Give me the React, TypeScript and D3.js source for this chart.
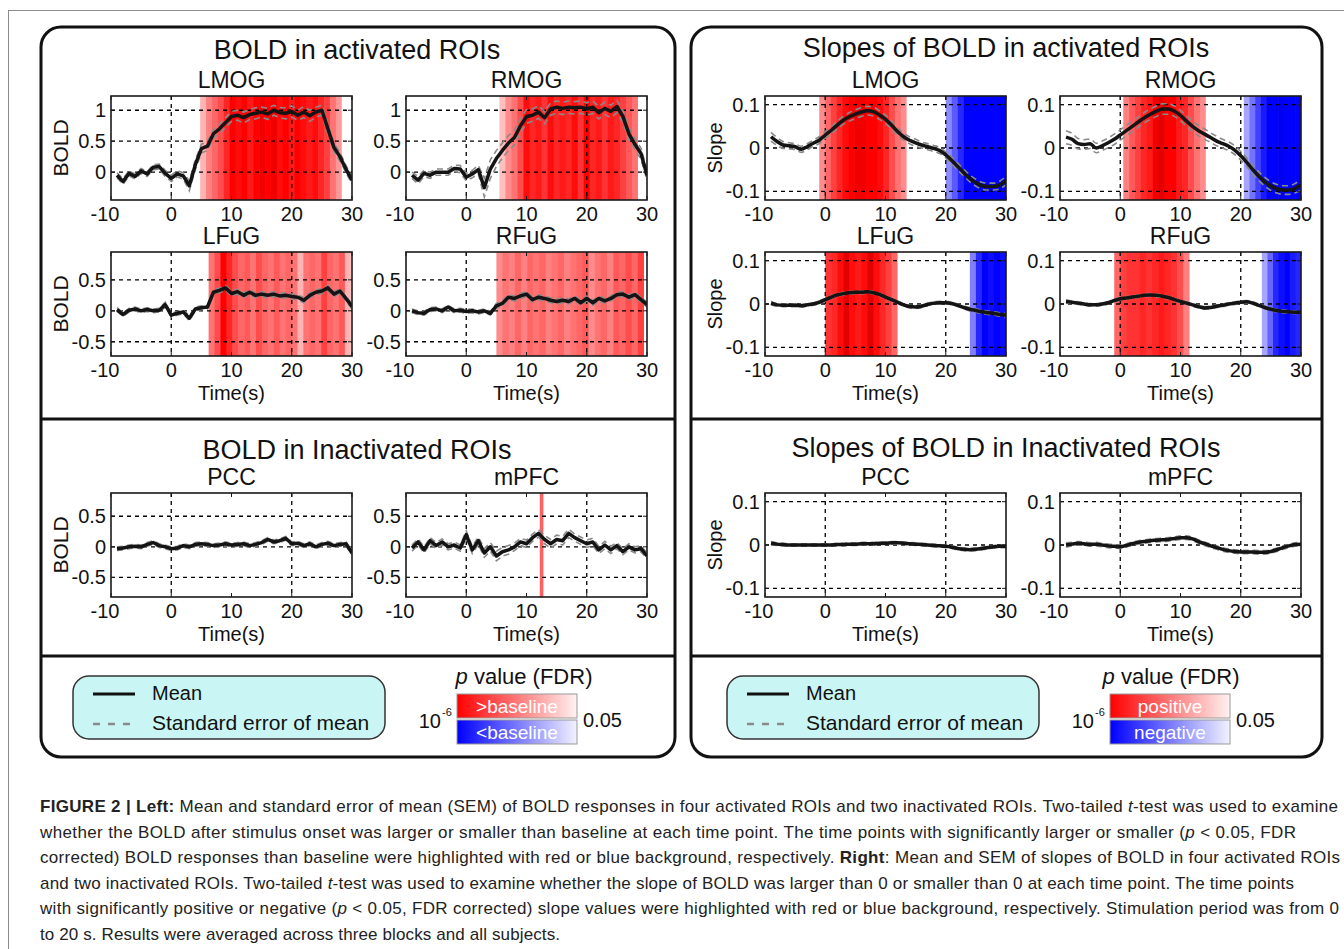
import React from "react";
import * as d3 from "d3";

const FONT = '"Liberation Sans", Arial, Helvetica, sans-serif';

// one sample per second, -9 s .. 30 s
const TIME = [-9, -8, -7, -6, -5, -4, -3, -2, -1, 0, 1, 2, 3, 4, 5, 6, 7, 8, 9, 10, 11, 12, 13, 14, 15, 16, 17, 18, 19, 20, 21, 22, 23, 24, 25, 26, 27, 28, 29, 30];
const X_TICKS = [-10, 0, 10, 20, 30];
const X_GRID = [0, 20];
const BOLD_TICKS_TOP = [0, 0.5, 1];
const BOLD_TICKS = [-0.5, 0, 0.5];
const SLOPE_TICKS = [-0.1, 0, 0.1];

// BOLD means and SEM
const BOLD_LMOG = [-0.05, -0.15, -0.02, -0.07, 0.02, -0.03, 0.08, 0.09, -0.02, -0.1, -0.03, -0.06, -0.22, 0.12, 0.38, 0.42, 0.62, 0.7, 0.8, 0.9, 0.92, 0.88, 0.93, 0.95, 0.97, 0.94, 1.0, 0.96, 0.95, 0.98, 0.92, 0.97, 0.91, 0.97, 1.0, 0.7, 0.4, 0.25, 0.05, -0.13];
const BOLD_LMOG_SEM = [0.04, 0.05, 0.04, 0.04, 0.04, 0.04, 0.04, 0.04, 0.05, 0.05, 0.05, 0.05, 0.08, 0.08, 0.07, 0.07, 0.07, 0.08, 0.08, 0.08, 0.08, 0.09, 0.08, 0.09, 0.08, 0.09, 0.08, 0.08, 0.09, 0.09, 0.08, 0.09, 0.09, 0.08, 0.08, 0.08, 0.07, 0.07, 0.06, 0.06];
const BOLD_RMOG = [-0.05, -0.13, -0.02, -0.05, 0.0, 0.0, 0.0, 0.06, 0.05, -0.08, -0.03, 0.04, -0.25, 0.05, 0.22, 0.35, 0.47, 0.56, 0.75, 0.9, 0.92, 0.97, 0.88, 1.02, 1.05, 1.03, 1.05, 1.04, 1.05, 1.02, 1.05, 0.96, 1.03, 0.98, 1.06, 0.9, 0.62, 0.45, 0.3, -0.05];
const BOLD_RMOG_SEM = [0.05, 0.06, 0.05, 0.05, 0.05, 0.05, 0.05, 0.05, 0.06, 0.06, 0.06, 0.07, 0.15, 0.15, 0.13, 0.12, 0.12, 0.12, 0.12, 0.11, 0.1, 0.1, 0.1, 0.1, 0.1, 0.1, 0.1, 0.1, 0.1, 0.1, 0.1, 0.1, 0.1, 0.1, 0.1, 0.1, 0.1, 0.09, 0.09, 0.08];
const BOLD_LFUG = [0.02, -0.06, 0.01, 0.03, 0.0, 0.02, 0.0, 0.01, 0.1, -0.07, -0.04, -0.02, -0.12, 0.03, 0.05, 0.06, 0.3, 0.33, 0.37, 0.28, 0.31, 0.25, 0.3, 0.25, 0.27, 0.25, 0.27, 0.24, 0.25, 0.23, 0.22, 0.17, 0.25, 0.3, 0.32, 0.37, 0.27, 0.32, 0.2, 0.07];
const BOLD_LFUG_SEM = [0.03, 0.03, 0.03, 0.03, 0.03, 0.03, 0.03, 0.03, 0.04, 0.03, 0.03, 0.03, 0.04, 0.03, 0.03, 0.03, 0.04, 0.04, 0.04, 0.04, 0.04, 0.04, 0.04, 0.04, 0.04, 0.04, 0.04, 0.04, 0.04, 0.04, 0.04, 0.04, 0.04, 0.04, 0.04, 0.04, 0.04, 0.04, 0.04, 0.04];
const BOLD_RFUG = [0.0, -0.03, -0.04, 0.02, 0.03, 0.0, 0.06, 0.0, 0.01, -0.01, 0.0, -0.02, 0.0, -0.04, 0.08, 0.12, 0.22, 0.2, 0.24, 0.27, 0.18, 0.22, 0.2, 0.17, 0.15, 0.17, 0.15, 0.2, 0.13, 0.2, 0.13, 0.2, 0.16, 0.2, 0.26, 0.27, 0.22, 0.26, 0.18, 0.1];
const BOLD_RFUG_SEM = [0.03, 0.03, 0.03, 0.03, 0.03, 0.03, 0.03, 0.03, 0.03, 0.03, 0.03, 0.03, 0.03, 0.03, 0.04, 0.04, 0.04, 0.04, 0.04, 0.04, 0.04, 0.04, 0.04, 0.04, 0.04, 0.04, 0.04, 0.04, 0.04, 0.04, 0.04, 0.04, 0.04, 0.04, 0.04, 0.04, 0.04, 0.04, 0.04, 0.04];
const BOLD_PCC = [-0.03, -0.02, 0.0, 0.01, 0.0, 0.04, 0.07, 0.02, 0.0, -0.03, -0.02, 0.02, 0.0, 0.04, 0.05, 0.04, 0.02, 0.03, 0.05, 0.03, 0.04, 0.05, 0.02, 0.04, 0.07, 0.12, 0.08, 0.1, 0.14, 0.05, 0.06, 0.02, 0.05, 0.0, 0.04, 0.06, 0.02, 0.04, 0.05, -0.1];
const BOLD_PCC_SEM = [0.03, 0.03, 0.03, 0.03, 0.03, 0.03, 0.03, 0.03, 0.03, 0.03, 0.03, 0.03, 0.03, 0.03, 0.03, 0.03, 0.03, 0.03, 0.03, 0.03, 0.03, 0.03, 0.03, 0.03, 0.03, 0.03, 0.03, 0.03, 0.03, 0.03, 0.03, 0.03, 0.03, 0.03, 0.03, 0.03, 0.03, 0.03, 0.03, 0.03];
const BOLD_MPFC = [-0.02, 0.08, -0.05, 0.1, 0.02, 0.08, 0.0, 0.03, -0.02, 0.2, -0.05, 0.1, -0.1, 0.0, -0.15, -0.08, -0.05, 0.0, 0.08, 0.05, 0.15, 0.22, 0.12, 0.05, 0.12, 0.1, 0.22, 0.15, 0.1, 0.05, 0.08, -0.05, 0.03, -0.05, 0.02, -0.08, 0.0, -0.05, -0.03, -0.15];
const BOLD_MPFC_SEM = [0.05, 0.05, 0.05, 0.05, 0.05, 0.05, 0.05, 0.05, 0.05, 0.06, 0.06, 0.06, 0.07, 0.07, 0.08, 0.07, 0.07, 0.06, 0.06, 0.06, 0.06, 0.06, 0.07, 0.07, 0.07, 0.07, 0.07, 0.06, 0.06, 0.06, 0.06, 0.06, 0.06, 0.06, 0.05, 0.05, 0.05, 0.05, 0.05, 0.05];

// slope means and SEM
const SLOPE_LMOG = [0.026, 0.015, 0.007, 0.005, 0.003, -0.003, 0.003, 0.011, 0.018, 0.03, 0.041, 0.053, 0.064, 0.072, 0.078, 0.083, 0.086, 0.084, 0.076, 0.066, 0.053, 0.038, 0.026, 0.018, 0.012, 0.007, 0.003, -0.001, -0.006, -0.016, -0.029, -0.043, -0.057, -0.07, -0.08, -0.087, -0.089, -0.089, -0.085, -0.075];
const SLOPE_LMOG_SEM = [0.01, 0.009, 0.008, 0.007, 0.007, 0.007, 0.007, 0.007, 0.008, 0.008, 0.008, 0.009, 0.009, 0.01, 0.01, 0.01, 0.01, 0.01, 0.01, 0.01, 0.009, 0.009, 0.008, 0.008, 0.008, 0.007, 0.007, 0.007, 0.007, 0.007, 0.008, 0.008, 0.008, 0.008, 0.008, 0.008, 0.008, 0.008, 0.009, 0.01];
const SLOPE_RMOG = [0.025, 0.02, 0.01, 0.008, 0.01, 0.0, 0.005, 0.012, 0.02, 0.03, 0.04, 0.05, 0.06, 0.07, 0.078, 0.085, 0.09, 0.09, 0.085, 0.075, 0.062, 0.05, 0.04, 0.032, 0.024, 0.016, 0.01, 0.004, -0.005, -0.018, -0.033, -0.05, -0.065, -0.078, -0.088, -0.094, -0.097, -0.097, -0.093, -0.085];
const SLOPE_RMOG_SEM = [0.015, 0.014, 0.012, 0.011, 0.011, 0.011, 0.011, 0.011, 0.012, 0.012, 0.012, 0.012, 0.012, 0.012, 0.012, 0.012, 0.012, 0.012, 0.012, 0.012, 0.012, 0.012, 0.012, 0.012, 0.011, 0.011, 0.01, 0.01, 0.01, 0.01, 0.01, 0.01, 0.01, 0.01, 0.01, 0.01, 0.01, 0.01, 0.011, 0.012];
const SLOPE_LFUG = [0.002, -0.002, -0.003, -0.003, -0.003, -0.004, -0.002, 0.0, 0.004, 0.01, 0.016, 0.021, 0.024, 0.026, 0.027, 0.027, 0.028, 0.026, 0.022, 0.016, 0.01, 0.004, -0.002, -0.006, -0.007, -0.005, -0.001, 0.002, 0.003, 0.003, 0.001, -0.003, -0.008, -0.012, -0.015, -0.018, -0.02, -0.022, -0.024, -0.026];
const SLOPE_LFUG_SEM = [0.004, 0.003, 0.003, 0.003, 0.003, 0.003, 0.003, 0.003, 0.003, 0.003, 0.003, 0.003, 0.003, 0.003, 0.003, 0.003, 0.003, 0.003, 0.003, 0.003, 0.003, 0.003, 0.003, 0.003, 0.003, 0.003, 0.003, 0.003, 0.003, 0.003, 0.003, 0.003, 0.003, 0.004, 0.004, 0.004, 0.004, 0.004, 0.004, 0.004];
const SLOPE_RFUG = [0.006, 0.004, 0.002, 0.0, -0.002, -0.002, 0.0, 0.003, 0.008, 0.012, 0.014, 0.016, 0.018, 0.02, 0.021, 0.02, 0.018, 0.015, 0.01, 0.006, 0.002, -0.002, -0.006, -0.009, -0.008, -0.005, -0.003, 0.0, 0.002, 0.004, 0.005, 0.002, -0.003, -0.008, -0.012, -0.015, -0.017, -0.018, -0.019, -0.019];
const SLOPE_RFUG_SEM = [0.004, 0.003, 0.003, 0.003, 0.003, 0.003, 0.003, 0.003, 0.003, 0.003, 0.003, 0.003, 0.003, 0.003, 0.003, 0.003, 0.003, 0.003, 0.003, 0.003, 0.003, 0.003, 0.003, 0.003, 0.003, 0.003, 0.003, 0.003, 0.003, 0.003, 0.003, 0.003, 0.003, 0.003, 0.003, 0.003, 0.003, 0.003, 0.003, 0.003];
const SLOPE_PCC = [0.004, 0.002, 0.001, 0.0, 0.0, 0.0, 0.0, 0.0, 0.0, 0.0, 0.0, 0.001, 0.001, 0.002, 0.002, 0.003, 0.003, 0.003, 0.004, 0.004, 0.005, 0.005, 0.004, 0.003, 0.002, 0.001, 0.0, -0.001, -0.002, -0.003, -0.005, -0.008, -0.01, -0.011, -0.01, -0.008, -0.006, -0.004, -0.003, -0.003];
const SLOPE_PCC_SEM = [0.004, 0.003, 0.003, 0.003, 0.003, 0.003, 0.003, 0.003, 0.003, 0.003, 0.003, 0.003, 0.003, 0.003, 0.003, 0.003, 0.003, 0.003, 0.003, 0.003, 0.003, 0.003, 0.003, 0.003, 0.003, 0.003, 0.003, 0.003, 0.003, 0.003, 0.003, 0.003, 0.003, 0.003, 0.003, 0.003, 0.003, 0.003, 0.003, 0.003];
const SLOPE_MPFC = [0.0, 0.002, 0.004, 0.003, 0.001, 0.002, 0.0, -0.002, -0.003, -0.004, -0.001, 0.003, 0.006, 0.008, 0.01, 0.011, 0.012, 0.013, 0.015, 0.017, 0.017, 0.014, 0.008, 0.003, -0.002, -0.006, -0.01, -0.013, -0.015, -0.016, -0.016, -0.016, -0.017, -0.017, -0.015, -0.011, -0.006, -0.002, 0.001, 0.002];
const SLOPE_MPFC_SEM = [0.005, 0.004, 0.004, 0.004, 0.004, 0.004, 0.004, 0.004, 0.004, 0.004, 0.004, 0.004, 0.004, 0.004, 0.004, 0.004, 0.004, 0.004, 0.004, 0.004, 0.004, 0.004, 0.004, 0.004, 0.004, 0.004, 0.004, 0.004, 0.004, 0.004, 0.004, 0.004, 0.004, 0.004, 0.004, 0.004, 0.004, 0.004, 0.004, 0.004];

// significance strips: [start, end] in seconds, then shade per bin (0 = p .05, 1 = p 1e-6)
const BOLD_LMOG_RED_SPAN = [4.8, 28.3];
const BOLD_LMOG_RED = [0.3, 0.5, 0.6, 0.7, 0.85, 1.0, 0.95, 1.0, 0.9, 1.0, 1.05, 1.0, 1.05, 0.95, 1.0, 0.9, 1.0, 0.95, 0.9, 0.95, 0.85, 0.75, 0.55, 0.4];
const BOLD_RMOG_RED_SPAN = [5.5, 28.5];
const BOLD_RMOG_RED = [0.25, 0.45, 0.55, 0.7, 0.95, 0.85, 0.9, 0.8, 0.95, 0.85, 0.9, 0.85, 0.95, 0.8, 1.0, 0.85, 0.9, 0.8, 0.9, 0.85, 0.75, 0.65, 0.55];
const BOLD_LFUG_RED_SPAN = [6.2, 29.8];
const BOLD_LFUG_RED = [0.55, 0.7, 1.0, 0.85, 0.7, 0.6, 0.65, 0.55, 0.7, 0.6, 0.55, 0.65, 0.55, 0.6, 0.55, 0.3, 0.55, 0.6, 0.55, 0.75, 0.6, 0.55, 0.65, 0.3];
const BOLD_RFUG_RED_SPAN = [5.0, 29.5];
const BOLD_RFUG_RED = [0.45, 0.55, 0.5, 0.6, 0.5, 0.6, 0.55, 0.6, 0.5, 0.55, 0.6, 0.5, 0.55, 0.6, 0.65, 0.45, 0.55, 0.6, 0.5, 0.65, 0.6, 0.7, 0.6, 0.75];
const BOLD_MPFC_RED_SPAN = [12.2, 12.8];
const BOLD_MPFC_RED = [0.62];
const SLOPE_LMOG_RED_SPAN = [-1.0, 13.5];
const SLOPE_LMOG_RED = [0.45, 0.6, 0.75, 0.85, 0.95, 1.0, 1.05, 1.05, 1.0, 1.0, 0.95, 0.85, 0.7, 0.55, 0.45];
const SLOPE_LMOG_BLUE_SPAN = [20.0, 30.0];
const SLOPE_LMOG_BLUE = [0.45, 0.65, 0.85, 1.0, 1.0, 1.0, 1.0, 1.0, 1.0, 1.0];
const SLOPE_RMOG_RED_SPAN = [0.5, 14.2];
const SLOPE_RMOG_RED = [0.5, 0.65, 0.75, 0.85, 0.9, 1.05, 1.1, 1.0, 1.0, 0.9, 0.85, 0.7, 0.55, 0.45];
const SLOPE_RMOG_BLUE_SPAN = [20.5, 30.0];
const SLOPE_RMOG_BLUE = [0.35, 0.55, 0.75, 0.9, 1.0, 1.0, 1.05, 1.0, 1.0, 1.0];
const SLOPE_LFUG_RED_SPAN = [0.0, 12.0];
const SLOPE_LFUG_RED = [0.8, 0.85, 0.95, 1.1, 0.95, 0.9, 0.95, 1.1, 0.95, 0.85, 0.75, 0.6];
const SLOPE_LFUG_BLUE_SPAN = [24.0, 30.0];
const SLOPE_LFUG_BLUE = [0.5, 0.85, 1.0, 0.95, 1.0, 0.95];
const SLOPE_RFUG_RED_SPAN = [-1.0, 11.5];
const SLOPE_RFUG_RED = [0.6, 0.75, 0.8, 0.8, 0.85, 0.8, 0.85, 0.9, 0.85, 0.8, 0.7, 0.5];
const SLOPE_RFUG_BLUE_SPAN = [23.5, 30.0];
const SLOPE_RFUG_BLUE = [0.35, 0.6, 0.85, 0.95, 1.0, 0.9, 0.85];

const CAPTION = [
  [["b", "FIGURE 2 | Left:"], ["", " Mean and standard error of mean (SEM) of BOLD responses in four activated ROIs and two inactivated ROIs. Two-tailed "], ["i", "t"], ["", "-test was used to examine"]],
  [["", "whether the BOLD after stimulus onset was larger or smaller than baseline at each time point. The time points with significantly larger or smaller ("], ["i", "p"], ["", " < 0.05, FDR"]],
  [["", "corrected) BOLD responses than baseline were highlighted with red or blue background, respectively. "], ["b", "Right"], ["", ": Mean and SEM of slopes of BOLD in four activated ROIs"]],
  [["", "and two inactivated ROIs. Two-tailed "], ["i", "t"], ["", "-test was used to examine whether the slope of BOLD was larger than 0 or smaller than 0 at each time point. The time points"]],
  [["", "with significantly positive or negative ("], ["i", "p"], ["", " < 0.05, FDR corrected) slope values were highlighted with red or blue background, respectively. Stimulation period was from 0"]],
  [["", "to 20 s. Results were averaged across three blocks and all subjects."]]
];
const CAPTION_WIDTHS = [1298, 1256, 1300, 1254, 1299, 520];

const redScale = d3.scaleLinear<string>().domain([0, 1, 1.2]).range(["#ffffff", "#ff0000", "#c80000"]).clamp(true);
const blueScale = d3.scaleLinear<string>().domain([0, 1, 1.2]).range(["#ffffff", "#0000ff", "#0000c0"]).clamp(true);

type Strip = { span: number[]; values: number[]; hue: "red" | "blue" };
type PlotCfg = {
  id: string; title: string; x0: number; x1: number; y0: number; y1: number;
  yDomain: number[]; yTicks: number[]; mean: number[]; sem: number[];
  strips: Strip[]; smooth: boolean; yLabel?: string; xLabel?: boolean;
};

const TOP_BOX = { y0: 96, y1: 200 };
const MID_BOX = { y0: 252, y1: 356 };
const LOW_BOX = { y0: 493, y1: 597 };

const PLOTS: PlotCfg[] = [
  { id: "b1", title: "LMOG", x0: 111, x1: 352, ...TOP_BOX, yDomain: [-0.45, 1.23], yTicks: BOLD_TICKS_TOP, mean: BOLD_LMOG, sem: BOLD_LMOG_SEM, strips: [{ span: BOLD_LMOG_RED_SPAN, values: BOLD_LMOG_RED, hue: "red" }], smooth: false, yLabel: "BOLD" },
  { id: "b2", title: "RMOG", x0: 406, x1: 647, ...TOP_BOX, yDomain: [-0.45, 1.23], yTicks: BOLD_TICKS_TOP, mean: BOLD_RMOG, sem: BOLD_RMOG_SEM, strips: [{ span: BOLD_RMOG_RED_SPAN, values: BOLD_RMOG_RED, hue: "red" }], smooth: false },
  { id: "b3", title: "LFuG", x0: 111, x1: 352, ...MID_BOX, yDomain: [-0.73, 0.95], yTicks: BOLD_TICKS, mean: BOLD_LFUG, sem: BOLD_LFUG_SEM, strips: [{ span: BOLD_LFUG_RED_SPAN, values: BOLD_LFUG_RED, hue: "red" }], smooth: false, yLabel: "BOLD", xLabel: true },
  { id: "b4", title: "RFuG", x0: 406, x1: 647, ...MID_BOX, yDomain: [-0.73, 0.95], yTicks: BOLD_TICKS, mean: BOLD_RFUG, sem: BOLD_RFUG_SEM, strips: [{ span: BOLD_RFUG_RED_SPAN, values: BOLD_RFUG_RED, hue: "red" }], smooth: false, xLabel: true },
  { id: "b5", title: "PCC", x0: 111, x1: 352, ...LOW_BOX, yDomain: [-0.82, 0.88], yTicks: BOLD_TICKS, mean: BOLD_PCC, sem: BOLD_PCC_SEM, strips: [], smooth: false, yLabel: "BOLD", xLabel: true },
  { id: "b6", title: "mPFC", x0: 406, x1: 647, ...LOW_BOX, yDomain: [-0.82, 0.88], yTicks: BOLD_TICKS, mean: BOLD_MPFC, sem: BOLD_MPFC_SEM, strips: [{ span: BOLD_MPFC_RED_SPAN, values: BOLD_MPFC_RED, hue: "red" }], smooth: false, xLabel: true },
  { id: "s1", title: "LMOG", x0: 765, x1: 1006, ...TOP_BOX, yDomain: [-0.12, 0.12], yTicks: SLOPE_TICKS, mean: SLOPE_LMOG, sem: SLOPE_LMOG_SEM, strips: [{ span: SLOPE_LMOG_RED_SPAN, values: SLOPE_LMOG_RED, hue: "red" }, { span: SLOPE_LMOG_BLUE_SPAN, values: SLOPE_LMOG_BLUE, hue: "blue" }], smooth: true, yLabel: "Slope" },
  { id: "s2", title: "RMOG", x0: 1060, x1: 1301, ...TOP_BOX, yDomain: [-0.12, 0.12], yTicks: SLOPE_TICKS, mean: SLOPE_RMOG, sem: SLOPE_RMOG_SEM, strips: [{ span: SLOPE_RMOG_RED_SPAN, values: SLOPE_RMOG_RED, hue: "red" }, { span: SLOPE_RMOG_BLUE_SPAN, values: SLOPE_RMOG_BLUE, hue: "blue" }], smooth: true },
  { id: "s3", title: "LFuG", x0: 765, x1: 1006, ...MID_BOX, yDomain: [-0.12, 0.12], yTicks: SLOPE_TICKS, mean: SLOPE_LFUG, sem: SLOPE_LFUG_SEM, strips: [{ span: SLOPE_LFUG_RED_SPAN, values: SLOPE_LFUG_RED, hue: "red" }, { span: SLOPE_LFUG_BLUE_SPAN, values: SLOPE_LFUG_BLUE, hue: "blue" }], smooth: true, yLabel: "Slope", xLabel: true },
  { id: "s4", title: "RFuG", x0: 1060, x1: 1301, ...MID_BOX, yDomain: [-0.12, 0.12], yTicks: SLOPE_TICKS, mean: SLOPE_RFUG, sem: SLOPE_RFUG_SEM, strips: [{ span: SLOPE_RFUG_RED_SPAN, values: SLOPE_RFUG_RED, hue: "red" }, { span: SLOPE_RFUG_BLUE_SPAN, values: SLOPE_RFUG_BLUE, hue: "blue" }], smooth: true, xLabel: true },
  { id: "s5", title: "PCC", x0: 765, x1: 1006, ...LOW_BOX, yDomain: [-0.12, 0.12], yTicks: SLOPE_TICKS, mean: SLOPE_PCC, sem: SLOPE_PCC_SEM, strips: [], smooth: true, yLabel: "Slope", xLabel: true },
  { id: "s6", title: "mPFC", x0: 1060, x1: 1301, ...LOW_BOX, yDomain: [-0.12, 0.12], yTicks: SLOPE_TICKS, mean: SLOPE_MPFC, sem: SLOPE_MPFC_SEM, strips: [], smooth: true, xLabel: true }
];

function Plot({ p }: { p: PlotCfg }) {
  const x = d3.scaleLinear().domain([-10, 30]).range([p.x0, p.x1]);
  const y = d3.scaleLinear().domain(p.yDomain).range([p.y1, p.y0]);
  const line = d3.line<number>()
    .x((_, i) => x(TIME[i]))
    .y((d) => y(d))
    .curve(p.smooth ? d3.curveMonotoneX : d3.curveLinear);
  const upper = p.mean.map((v, i) => v + p.sem[i]);
  const lower = p.mean.map((v, i) => v - p.sem[i]);
  const clip = `clip-${p.id}`;
  const midY = (p.y0 + p.y1) / 2;

  return (
    <g>
      <defs>
        <clipPath id={clip}>
          <rect x={p.x0} y={p.y0} width={p.x1 - p.x0} height={p.y1 - p.y0} />
        </clipPath>
      </defs>
      <rect x={p.x0} y={p.y0} width={p.x1 - p.x0} height={p.y1 - p.y0} fill="#fff" />
      <g clipPath={`url(#${clip})`}>
        {p.strips.map((s, si) => {
          const w = (s.span[1] - s.span[0]) / s.values.length;
          const sc = s.hue === "red" ? redScale : blueScale;
          return s.values.map((v, i) => {
            const a = x(s.span[0] + i * w);
            const b = x(s.span[0] + (i + 1) * w);
            const last = i === s.values.length - 1;
            return (
              <rect key={`${si}-${i}`} x={a} y={p.y0} width={b - a + (last ? 0 : 0.6)}
                height={p.y1 - p.y0} fill={sc(v)} />
            );
          });
        })}
        {p.yTicks.map((t) => (
          <line key={`gy${t}`} x1={p.x0} x2={p.x1} y1={y(t)} y2={y(t)}
            stroke="#000" strokeWidth={1.3} strokeDasharray="4 4" />
        ))}
        {X_GRID.map((t) => (
          <line key={`gx${t}`} x1={x(t)} x2={x(t)} y1={p.y0} y2={p.y1}
            stroke="#000" strokeWidth={1.3} strokeDasharray="4 4" />
        ))}
        <path d={line(upper) || ""} fill="none" stroke="#8a8a8a" strokeWidth={1.6} strokeDasharray="6 4" />
        <path d={line(lower) || ""} fill="none" stroke="#8a8a8a" strokeWidth={1.6} strokeDasharray="6 4" />
        <path d={line(p.mean) || ""} fill="none" stroke="#141414" strokeWidth={3.5} strokeLinejoin="round" />
      </g>
      <rect x={p.x0} y={p.y0} width={p.x1 - p.x0} height={p.y1 - p.y0}
        fill="none" stroke="#1a1a1a" strokeWidth={1.6} />
      {X_TICKS.map((t) => (
        <g key={`xt${t}`}>
          <line x1={x(t)} x2={x(t)} y1={p.y1} y2={p.y1 - 4} stroke="#1a1a1a" strokeWidth={1} />
          <line x1={x(t)} x2={x(t)} y1={p.y0} y2={p.y0 + 4} stroke="#1a1a1a" strokeWidth={1} />
          <text x={x(t) + (t < 0 ? -6 : 0)} y={p.y1 + 21} textAnchor="middle" fontSize={20}>{t}</text>
        </g>
      ))}
      {p.yTicks.map((t) => (
        <g key={`yt${t}`}>
          <line x1={p.x0} x2={p.x0 + 4} y1={y(t)} y2={y(t)} stroke="#1a1a1a" strokeWidth={1} />
          <line x1={p.x1} x2={p.x1 - 4} y1={y(t)} y2={y(t)} stroke="#1a1a1a" strokeWidth={1} />
          <text x={p.x0 - 5} y={y(t) + 7} textAnchor="end" fontSize={20}>{t}</text>
        </g>
      ))}
      <text x={(p.x0 + p.x1) / 2} y={p.y0 - 8} textAnchor="middle" fontSize={23}>{p.title}</text>
      {p.yLabel && (
        <text transform={`translate(${p.x0 - 43},${midY}) rotate(-90)`} textAnchor="middle"
          fontSize={p.yLabel === "BOLD" ? 21 : 20}>{p.yLabel}</text>
      )}
      {p.xLabel && (
        <text x={(p.x0 + p.x1) / 2} y={p.y1 + 44} textAnchor="middle" fontSize={20}>Time(s)</text>
      )}
    </g>
  );
}

function Legend({ x0, cbX, pX, posLabel, negLabel }: { x0: number; cbX: number; pX: number; posLabel: string; negLabel: string }) {
  const cbW = 120;
  return (
    <g>
      <rect x={x0} y={676} width={312} height={63} rx={16} fill="#c9f6f4" stroke="#333" strokeWidth={1.5} />
      <line x1={x0 + 20} x2={x0 + 62} y1={694} y2={694} stroke="#111" strokeWidth={3} />
      <text x={x0 + 79} y={700} fontSize={20}>Mean</text>
      <line x1={x0 + 20} x2={x0 + 62} y1={724} y2={724} stroke="#8a8a8a" strokeWidth={2.5} strokeDasharray="7 8" />
      <text x={x0 + 79} y={730} fontSize={21}>Standard error of mean</text>

      <text x={pX} y={684} textAnchor="middle" fontSize={22}>
        <tspan fontStyle="italic">p</tspan> value (FDR)
      </text>
      <rect x={cbX} y={694} width={cbW} height={24} fill="url(#gradRed)" stroke="#999" strokeWidth={1} />
      <rect x={cbX} y={720} width={cbW} height={24} fill="url(#gradBlue)" stroke="#999" strokeWidth={1} />
      <text x={cbX + cbW / 2} y={713} textAnchor="middle" fontSize={19} fill="#fff">{posLabel}</text>
      <text x={cbX + cbW / 2} y={739} textAnchor="middle" fontSize={19} fill="#fff">{negLabel}</text>
      <text x={cbX - 16} y={728} textAnchor="end" fontSize={20}>10</text>
      <text x={cbX - 15} y={716} fontSize={11}>-6</text>
      <text x={cbX + cbW + 6} y={727} fontSize={20}>0.05</text>
    </g>
  );
}

export default function App() {
  return (
    <svg width={1344} height={949} viewBox="0 0 1344 949"
      style={{ position: "absolute", left: 0, top: 0, background: "#fff" }}
      fontFamily={FONT} fill="#111">
      <defs>
        <linearGradient id="gradRed" x1="0" x2="1" y1="0" y2="0">
          <stop offset="0" stopColor="#ff0000" />
          <stop offset="1" stopColor="#fff2f2" />
        </linearGradient>
        <linearGradient id="gradBlue" x1="0" x2="1" y1="0" y2="0">
          <stop offset="0" stopColor="#0000ff" />
          <stop offset="1" stopColor="#f2f2ff" />
        </linearGradient>
      </defs>

      {/* outer frame */}
      <line x1={8} x2={1344} y1={10.5} y2={10.5} stroke="#8c8c8c" strokeWidth={1} />
      <line x1={8.5} x2={8.5} y1={10} y2={949} stroke="#8c8c8c" strokeWidth={1} />

      {/* panels */}
      <rect x={41} y={27} width={634} height={730} rx={20} fill="none" stroke="#111" strokeWidth={3} />
      <line x1={41} x2={675} y1={419} y2={419} stroke="#111" strokeWidth={3} />
      <line x1={41} x2={675} y1={656} y2={656} stroke="#111" strokeWidth={3} />
      <rect x={691} y={27} width={631} height={730} rx={20} fill="none" stroke="#111" strokeWidth={3} />
      <line x1={691} x2={1322} y1={419} y2={419} stroke="#111" strokeWidth={3} />
      <line x1={691} x2={1322} y1={656} y2={656} stroke="#111" strokeWidth={3} />

      <text x={357} y={59} textAnchor="middle" fontSize={27}>BOLD in activated ROIs</text>
      <text x={1006} y={57} textAnchor="middle" fontSize={27}>Slopes of BOLD in activated ROIs</text>
      <text x={357} y={459} textAnchor="middle" fontSize={27}>BOLD in Inactivated ROIs</text>
      <text x={1006} y={457} textAnchor="middle" fontSize={27}>Slopes of BOLD in Inactivated ROIs</text>

      {PLOTS.map((p) => <Plot key={p.id} p={p} />)}

      <Legend x0={73} cbX={457} pX={524} posLabel=">baseline" negLabel="<baseline" />
      <Legend x0={727} cbX={1110} pX={1171} posLabel="positive" negLabel="negative" />

      {CAPTION.map((parts, li) => (
        <text key={li} x={40} y={812 + li * 25.6} fontSize={17} fill="#222"
          textLength={CAPTION_WIDTHS[li]} lengthAdjust="spacing">
          {parts.map(([style, s], k) => (
            <tspan key={k} fontWeight={style === "b" ? "bold" : undefined}
              fontStyle={style === "i" ? "italic" : undefined}>{s}</tspan>
          ))}
        </text>
      ))}
    </svg>
  );
}
